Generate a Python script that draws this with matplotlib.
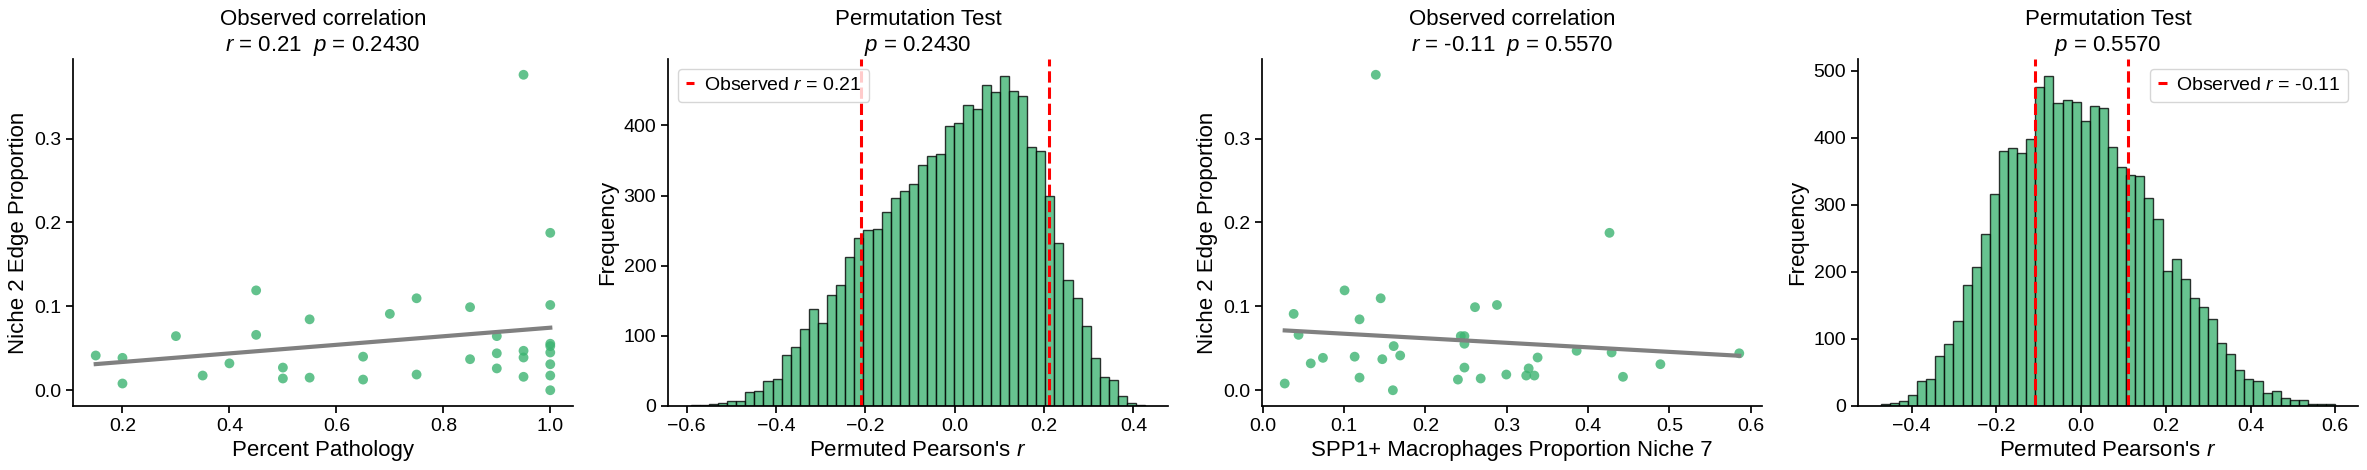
import numpy as np
import matplotlib
matplotlib.use("Agg")
import matplotlib.pyplot as plt

plt.rcParams['font.family'] = ['Liberation Sans', 'DejaVu Sans']
plt.rcParams['mathtext.fontset'] = 'custom'
plt.rcParams['mathtext.rm'] = 'Liberation Sans'
plt.rcParams['mathtext.it'] = 'Liberation Sans:italic'
plt.rcParams['axes.linewidth'] = 1.25
plt.rcParams['xtick.major.width'] = 1.25
plt.rcParams['ytick.major.width'] = 1.25
plt.rcParams['xtick.major.size'] = 5
plt.rcParams['ytick.major.size'] = 5

# 数据：niche 2 edge proportion 与两个自变量
edge_prop = [0.0414, 0.0386, 0.008, 0.0645, 0.0175, 0.032, 0.119, 0.066, 0.027, 0.014,
             0.0845, 0.015, 0.040, 0.0127, 0.091, 0.1096, 0.0187, 0.099, 0.037, 0.0645,
             0.044, 0.026, 0.376, 0.047, 0.039, 0.016, 0.1876, 0.1016, 0.0554, 0.0526,
             0.045, 0.031, 0.0175, 0.0]
pct_pathology = [0.15, 0.2, 0.2, 0.3, 0.35, 0.4, 0.45, 0.45, 0.5, 0.5,
                 0.55, 0.55, 0.65, 0.65, 0.7, 0.75, 0.75, 0.85, 0.85, 0.9,
                 0.9, 0.9, 0.95, 0.95, 0.95, 0.95, 1.0, 1.0, 1.0, 1.0,
                 1.0, 1.0, 1.0, 1.0]
spp1_prop = [0.169, 0.074, 0.027, 0.2435, 0.324, 0.059, 0.1006, 0.044, 0.248, 0.268,
             0.119, 0.119, 0.113, 0.240, 0.038, 0.145, 0.2995, 0.261, 0.147, 0.248,
             0.586, 0.327, 0.139, 0.386, 0.338, 0.443, 0.4264, 0.288, 0.248, 0.161,
             0.429, 0.489, 0.334, 0.160]

# 置换检验直方图（50 个 bin）
perm1_range = (-0.591, 0.4265)
perm1_counts = [1, 1, 3, 4, 7, 7, 20, 22, 35, 38,
                72, 84, 110, 138, 118, 158, 172, 212, 240, 251,
                252, 277, 297, 307, 317, 344, 356, 359, 399, 404,
                429, 424, 457, 447, 471, 449, 442, 369, 363, 300,
                232, 179, 154, 114, 68, 41, 37, 14, 4, 2]
perm2_range = (-0.473, 0.600)
perm2_counts = [3, 4, 7, 16, 37, 41, 75, 92, 127, 180,
                207, 257, 317, 381, 385, 378, 399, 476, 493, 452,
                456, 453, 425, 447, 444, 387, 357, 345, 343, 310,
                279, 201, 219, 189, 161, 148, 130, 94, 77, 53,
                41, 37, 20, 23, 12, 9, 9, 3, 3, 3]

obs = [(0.21, '0.21', '0.2430'), (-0.11, '-0.11', '0.5570')]

green = '#3CB371'
W, H = 2367, 470
fig = plt.figure(figsize=(W / 100, H / 100), dpi=100)
lefts = [73, 668, 1262, 1858]
axes = [fig.add_axes([l / W, 64 / H, 500 / W, 347 / H]) for l in lefts]


def scatter_panel(ax, x, y, xlabel, r_txt, p_txt):
    ax.scatter(x, y, s=50, color=green, alpha=0.8, edgecolors='none')
    k, b = np.polyfit(x, y, 1)
    xs = np.array([min(x), max(x)])
    ax.plot(xs, k * xs + b, color='gray', lw=3)
    ax.set_xlabel(xlabel, fontsize=16)
    ax.set_ylabel('Niche 2 Edge Proportion', fontsize=16)
    ax.set_title('Observed correlation\n$r$ = %s  $p$ = %s' % (r_txt, p_txt), fontsize=16)
    ax.set_yticks([0.0, 0.1, 0.2, 0.3])


def perm_panel(ax, rng, counts, r, r_txt, p_txt, loc):
    edges = np.linspace(rng[0], rng[1], len(counts) + 1)
    centers = (edges[:-1] + edges[1:]) / 2
    ax.hist(centers, bins=edges, weights=counts, color=green, alpha=0.78,
            edgecolor='black', linewidth=1.0)
    ax.axvline(r, color='red', ls='--', lw=2.2, label='Observed $r$ = %s' % r_txt)
    ax.axvline(-r, color='red', ls='--', lw=2.2)
    ax.set_xlabel("Permuted Pearson's $r$", fontsize=16)
    ax.set_ylabel('Frequency', fontsize=16)
    ax.set_title('Permutation Test\n$p$ = %s' % p_txt, fontsize=16)
    ax.legend(loc=loc, fontsize=14, handlelength=0.45, handletextpad=0.5)


scatter_panel(axes[0], pct_pathology, edge_prop, 'Percent Pathology', obs[0][1], obs[0][2])
perm_panel(axes[1], perm1_range, perm1_counts, obs[0][0], obs[0][1], obs[0][2], 'upper left')
scatter_panel(axes[2], spp1_prop, edge_prop, 'SPP1+ Macrophages Proportion Niche 7', obs[1][1], obs[1][2])
perm_panel(axes[3], perm2_range, perm2_counts, obs[1][0], obs[1][1], obs[1][2], 'upper right')

for ax in axes:
    ax.spines['top'].set_visible(False)
    ax.spines['right'].set_visible(False)
    ax.tick_params(labelsize=14)

fig.savefig('out.png', dpi=100)
